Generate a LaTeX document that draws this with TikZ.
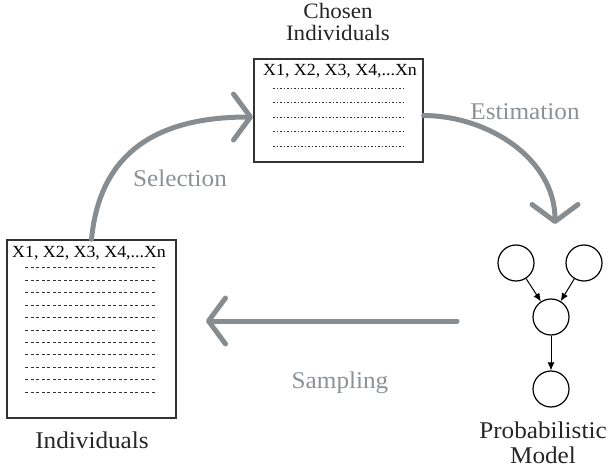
\documentclass[tikz,border=0pt]{standalone}
\usepackage{fontspec}
\setmainfont{Liberation Serif}
\usetikzlibrary{arrows.meta}
\definecolor{flowgray}{HTML}{878C91}
\definecolor{labelgray}{HTML}{8C9196}
\definecolor{boxline}{HTML}{333333}
\newcommand{\wide}[1]{\scalebox{1.05}[1]{#1}}
\begin{document}
\begin{tikzpicture}[x=1pt,y=-1pt,
  databox/.style={draw=boxline, line width=1.4pt, inner sep=0pt, fill=white},
  header/.style={font=\fontsize{17pt}{19pt}\selectfont, anchor=base west, inner sep=0pt, text=black},
  title/.style={font=\fontsize{24pt}{26pt}\selectfont, anchor=base, inner sep=0pt, text=black!85},
  smalltitle/.style={font=\fontsize{22pt}{22pt}\selectfont, align=center, anchor=north, inner sep=0pt, text=black!85},
  steplabel/.style={font=\fontsize{24pt}{26pt}\selectfont, anchor=base, inner sep=0pt, text=labelgray},
  flow/.style={draw=flowgray, line width=5pt, line cap=round,
    -{Straight Barb[length=17pt,width=46pt,round]}},
  rowline/.style={draw=boxline, line width=1pt, dash pattern=on 3pt off 2.5pt},
  rowdots/.style={draw=boxline, line width=0.9pt, dash pattern=on 1.8pt off 1.7pt},
  var/.style={circle, draw=black, line width=1.2pt, minimum size=36pt, inner sep=0pt},
  dep/.style={draw=black, line width=1pt, -{Latex[length=8pt,width=7pt]}}
]
\useasboundingbox (0,0) rectangle (610,470);

% boxes
\node[databox, minimum width=169pt, minimum height=178pt] (pop) at (91.5,329) {};
\node[databox, minimum width=169pt, minimum height=103pt] (chosen) at (338.5,110.5) {};

% headers
\node[header] (pophead) at (12,258) {\wide{X1, X2, X3, X4,...Xn}};
\node[header] (chhead) at (263,76) {\wide{X1, X2, X3, X4,...Xn}};

% rows
\foreach \i in {0,...,10} {
  \draw[rowline] (25,{268+12.4*\i}) -- (157,{268+12.4*\i});
}
\foreach \i in {0,...,4} {
  \draw[rowdots] (273,{88+14.5*\i}) -- (403,{88+14.5*\i});
}

% titles
\node[title] (poptitle) at (92,448) {\wide{Individuals}};
\node[smalltitle] (chtitle) at (338,3) {\wide{Chosen}\\\wide{Individuals}};
\node[title] (modtitle1) at (543,438) {\wide{Probabilistic}};
\node[title] (modtitle2) at (543,463) {\wide{Model}};

% model
\node[var] (v1) at (516,263) {};
\node[var] (v2) at (584,263) {};
\node[var] (v3) at (551,317) {};
\node[var] (v4) at (551,389) {};
\draw[dep] (v1) -- (v3);
\draw[dep] (v2) -- (v3);
\draw[dep] (v3) -- (v4);

% flow arrows
\coordinate (selend) at (253,117);
\coordinate (estend) at (555,224);
\coordinate (samstart) at (457,321);
\coordinate (samend) at (206,321);
\draw[flow] (pop.north) .. controls (100,150) and (160,117) .. (selend);
\draw[flow] ([yshift=-5pt]chosen.east) .. controls (490,116) and (555,160) .. (estend);
\draw[flow] (samstart) -- (samend);

% labels
\node[steplabel] (sel) at (180,187) {\wide{Selection}};
\node[steplabel] (est) at (525,120) {\wide{Estimation}};
\node[steplabel] (sam) at (340,388) {\wide{Sampling}};
\end{tikzpicture}
\end{document}
